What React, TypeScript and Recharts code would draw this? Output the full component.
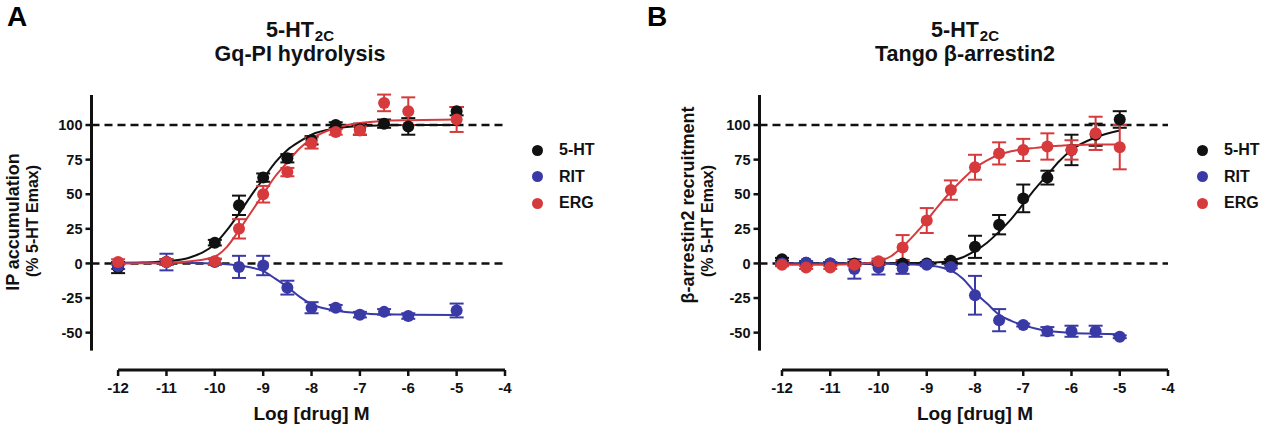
import React from 'react';
import { ComposedChart, Line, Scatter, XAxis, YAxis, ErrorBar, ReferenceLine, Legend } from 'recharts';

const seriesNames = ['5-HT', 'RIT', 'ERG'];
const seriesColors = ['#111111', '#3a3aa6', '#d63a3c'];
const xTicks = [-12, -11, -10, -9, -8, -7, -6, -5, -4];
const yTicks = [-50, -25, 0, 25, 50, 75, 100];

// panel A: Gq-PI hydrolysis
const doseA = [-12, -11, -10, -9.5, -9, -8.5, -8, -7.5, -7, -6.5, -6, -5];
const htA = [-3, 1, 15, 42, 62, 76, 89, 100, 97, 101, 99, 110];
const htAErr = [4, 2, 2, 7, 3, 3, 3, 2, 4, 3, 6, 3];
const ritA = [-2, 1, 1, -2.5, -1.5, -17.5, -32, -32, -37, -35, -38, -34];
const ritAErr = [2, 6, 2, 8, 7, 5, 4, 2, 2, 2, 2, 5];
const ergA = [1, 1, 1.5, 25, 50, 66, 87, 95, 96, 116, 110, 104];
const ergAErr = [2, 2, 2, 7, 6, 3, 4, 2, 3, 6, 10, 9];

// fitted curves
const fitXA = [-12, -11.5, -11, -10.5, -10, -9.75, -9.5, -9.25, -9, -8.75, -8.5, -8.25, -8, -7.5, -7, -6.5, -6, -5];
const htFitA = [0.3, 0.6, 1.5, 4.5, 14, 24, 36, 49, 61, 73, 82, 88, 93, 97.5, 99.3, 99.8, 100, 100];
const ritFitA = [0.5, 0.5, 0.5, 0.4, 0, -0.6, -1.5, -3, -5.5, -11, -17, -24, -29.5, -34, -36, -36.8, -37, -37.2];
const ergFitA = [0, 0.1, 0.3, 1.5, 5, 12, 24, 37, 50, 63, 73, 83, 90, 98, 101.5, 103, 103.5, 104];

// panel B: Tango beta-arrestin2
const doseB = [-12, -11.5, -11, -10.5, -10, -9.5, -9, -8.5, -8, -7.5, -7, -6.5, -6, -5.5, -5];
const htB = [3, 0.5, 0, 0, 0, 0, 0, 2, 12, 28, 47, 62, 82, 93, 104];
const htBErr = [1, 1, 1, 1, 1, 1, 1, 1, 8, 7, 10, 5, 11, 8, 6];
const ritB = [0, 0.5, 0, -4, -3, -3.5, -1, -2.5, -23, -41, -44.5, -49, -49, -49, -53];
const ritBErr = [1, 1, 1, 7, 5, 4, 1, 1, 14, 8, 1, 3, 4, 4, 1];
const ergB = [-1, -3, -3, -1, 1.5, 11.5, 31, 53, 69.5, 79.5, 82, 84.5, 82, 94, 84];
const ergBErr = [1, 1, 1, 1, 2, 9, 9, 7, 9, 8, 8, 9.5, 7, 12, 16];

const fitXB = [-12, -11, -10.5, -10, -9.75, -9.5, -9.25, -9, -8.75, -8.5, -8.25, -8, -7.75, -7.5, -7.25, -7, -6.75, -6.5, -6.25, -6, -5.5, -5];
const htFitB = [0, 0, 0, 0, 0.1, 0.2, 0.3, 0.5, 0.9, 2, 4.5, 9, 15, 23, 32, 43, 54, 64, 74, 82, 91, 96];
const ritFitB = [0, 0, -0.1, -0.2, -0.3, -0.5, -0.8, -1.3, -2.5, -5, -11, -21, -29, -37, -41.5, -44.6, -47, -48.8, -49.6, -50.2, -50.8, -51.2];
const ergFitB = [-1, -1, -0.5, 1.5, 5, 12, 21, 31, 42, 52, 61, 69, 74.5, 78.5, 81, 82.5, 83.5, 84.5, 85, 85.5, 86, 86];

const FONT = '"Liberation Sans", Arial, sans-serif';
const Y_MIN = -77;
const Y_MAX = 121.7;
const Y_AXIS_W = 60;

const pts = (xs: number[], ys: number[], es?: number[]) =>
  xs.map((x, i) => (es ? { x, y: ys[i], err: es[i] } : { x, y: ys[i] }));

interface PanelProps {
  left: number;
  width: number;
  ml: number;
  mr: number;
  xMin: number;
  letter: string;
  titleX: number;
  subtitle: React.ReactNode;
  yLabel1: string;
  yLabel2: string;
  yl1x: number;
  yl2x: number;
  yl1y: number;
  legendX: number;
  points: { x: number; y: number; err: number }[][];
  fits: { x: number; y: number }[][];
}

// rotated axis title line, centred on (cx, cy), baseline-ish at cx
function VLabel({ cx, cy, size, text }: { cx: number; cy: number; size: number; text: string }) {
  return (
    <div
      style={{
        position: 'absolute',
        left: cx - 150,
        top: cy - size / 2,
        width: 300,
        height: size,
        lineHeight: `${size}px`,
        textAlign: 'center',
        transform: 'rotate(-90deg)',
        transformOrigin: '50% 50%',
        fontFamily: FONT,
        fontWeight: 700,
        fontSize: size,
        color: '#111',
        whiteSpace: 'nowrap',
      }}
    >
      {text}
    </div>
  );
}

function Panel(p: PanelProps) {
  const x8 = p.ml + ((-8 - p.xMin) / (-4 - p.xMin)) * (p.width - p.ml - p.mr);
  return (
    <div style={{ position: 'absolute', left: p.left, top: 0, width: p.width, height: 441 }}>
      <div style={{ position: 'absolute', left: 7, top: 1, fontFamily: FONT, fontWeight: 700, fontSize: 28 }}>{p.letter}</div>
      <div style={{ position: 'absolute', left: p.titleX - 150, width: 300, top: 19, textAlign: 'center', fontFamily: FONT, fontWeight: 700, fontSize: 21.5, lineHeight: '23px', color: '#111' }}>
        <div>5-HT<span style={{ fontSize: 15, position: 'relative', top: 4, marginLeft: 1 }}>2C</span></div>
        <div>{p.subtitle}</div>
      </div>
      <ComposedChart width={p.width} height={441} margin={{ top: 95, right: p.mr, bottom: 41, left: p.ml - Y_AXIS_W }}>
        <XAxis
          type="number"
          dataKey="x"
          domain={[p.xMin, -4]}
          ticks={xTicks}
          allowDataOverflow
          axisLine={false}
          tickLine={{ stroke: '#111', strokeWidth: 2.5 }}
          tickSize={6}
          tickMargin={6}
          height={30}
          tick={{ fill: '#111', fontSize: 15, fontWeight: 700, fontFamily: FONT }}
          label={{
            content: () => (
              <text x={x8} y={420} textAnchor="middle" fontFamily={FONT} fontWeight={700} fontSize={19} fill="#111">
                Log [drug] M
              </text>
            ),
          }}
        />
        <YAxis
          type="number"
          dataKey="y"
          domain={[Y_MIN, Y_MAX]}
          ticks={yTicks}
          allowDataOverflow
          width={Y_AXIS_W}
          axisLine={false}
          tickLine={{ stroke: '#111', strokeWidth: 2.5 }}
          tickSize={6}
          tickMargin={3}
          tick={{ fill: '#111', fontSize: 14.5, fontWeight: 700, fontFamily: FONT }}
        />
        <ReferenceLine segment={[{ x: p.xMin, y: 100 }, { x: -4, y: 100 }]} stroke="#111" strokeWidth={2.5} strokeDasharray="8 5" ifOverflow="visible" />
        <ReferenceLine segment={[{ x: p.xMin, y: 0 }, { x: -4, y: 0 }]} stroke="#111" strokeWidth={2.5} strokeDasharray="8 5" ifOverflow="visible" />
        <ReferenceLine segment={[{ x: p.xMin, y: -63 }, { x: p.xMin, y: Y_MAX }]} stroke="#111" strokeWidth={3} ifOverflow="visible" />
        <ReferenceLine segment={[{ x: -12, y: Y_MIN }, { x: -4, y: Y_MIN }]} stroke="#111" strokeWidth={3} ifOverflow="visible" />
        {[0, 1, 2].map((i) => [
          <Line
            key={`fit${i}`}
            data={p.fits[i]}
            dataKey="y"
            type="monotone"
            stroke={seriesColors[i]}
            strokeWidth={2}
            dot={false}
            legendType="none"
            isAnimationActive={false}
          />,
          <Scatter
            key={`pts${i}`}
            name={seriesNames[i]}
            data={p.points[i]}
            fill={seriesColors[i]}
            isAnimationActive={false}
            shape={(s: any) => <circle cx={s.cx} cy={s.cy} r={6} fill={seriesColors[i]} />}
          >
            <ErrorBar dataKey="err" direction="y" width={7} strokeWidth={2} stroke={seriesColors[i]} />
          </Scatter>,
        ])}
        <Legend
          layout="vertical"
          align="center"
          verticalAlign="middle"
          wrapperStyle={{ position: 'absolute', left: p.legendX, top: 137, width: 110, height: 80 }}
          content={() => (
            <div style={{ fontFamily: FONT, fontWeight: 700, fontSize: 16, color: '#111' }}>
              {seriesNames.map((n, i) => (
                <div key={n} style={{ display: 'flex', alignItems: 'center', height: 26.5 }}>
                  <span style={{ display: 'inline-block', width: 11, height: 11, borderRadius: '50%', background: seriesColors[i], marginLeft: 0, marginRight: 16 }} />
                  {n}
                </div>
              ))}
            </div>
          )}
        />
      </ComposedChart>
      <VLabel cx={p.yl1x} cy={p.yl1y} size={18} text={p.yLabel1} />
      <VLabel cx={p.yl2x} cy={221} size={16} text={p.yLabel2} />
    </div>
  );
}

export default function App() {
  return (
    <div style={{ position: 'absolute', left: 0, top: 0, width: 1281, height: 441, background: '#fff' }}>
      <Panel
        left={0}
        width={640}
        ml={91.5}
        mr={135}
        xMin={-12.55}
        letter="A"
        titleX={300}
        subtitle="Gq-PI hydrolysis"
        yLabel1="IP accumulation"
        yLabel2="(% 5-HT Emax)"
        yl1x={13}
        yl2x={33}
        yl1y={222}
        legendX={532}
        points={[pts(doseA, htA, htAErr), pts(doseA, ritA, ritAErr), pts(doseA, ergA, ergAErr)] as any}
        fits={[pts(fitXA, htFitA), pts(fitXA, ritFitA), pts(fitXA, ergFitA)]}
      />
      <Panel
        left={640}
        width={641}
        ml={119.5}
        mr={113}
        xMin={-12.466}
        letter="B"
        titleX={325}
        subtitle={<span>Tango β-arrestin2</span>}
        yLabel1="β-arrestin2 recruitment"
        yLabel2="(% 5-HT Emax)"
        yl1x={48}
        yl2x={68}
        yl1y={205}
        legendX={557}
        points={[pts(doseB, htB, htBErr), pts(doseB, ritB, ritBErr), pts(doseB, ergB, ergBErr)] as any}
        fits={[pts(fitXB, htFitB), pts(fitXB, ritFitB), pts(fitXB, ergFitB)]}
      />
    </div>
  );
}
